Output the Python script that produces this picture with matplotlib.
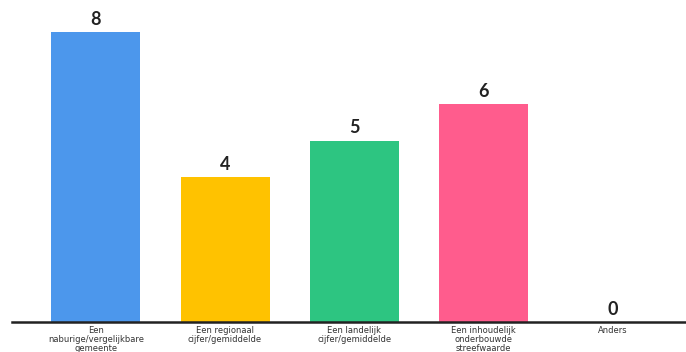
import matplotlib
matplotlib.use("Agg")
import matplotlib.pyplot as plt

categories = ["Een\nnaburige/vergelijkbare\ngemeente", "Een regionaal\ncijfer/gemiddelde",
              "Een landelijk\ncijfer/gemiddelde", "Een inhoudelijk\nonderbouwde\nstreefwaarde", "Anders"]
values = [8, 4, 5, 6, 0]
colors = ["#4C97EC", "#FFC200", "#2DC581", "#FF5C8D", "#9E9E9E"]

plt.rcParams['font.family'] = ['Lato', 'DejaVu Sans']
fig = plt.figure(figsize=(6.86, 3.52), dpi=100)
ax = fig.add_axes([12/686, 30/352, 674/686, 322/352])
x = list(range(len(categories)))
ax.bar(x, values, width=0.69, color=colors)
for xi, v in zip(x, values):
    ax.text(xi, v + 0.12, str(v), ha='center', va='bottom', fontsize=13,
            fontweight='bold', color='#222222')
ax.set_xlim(-0.65, 4.57)
ax.set_ylim(0, 8.88)
ax.set_yticks([])
ax.set_xticks(x)
ax.set_xticklabels(categories, fontsize=6, color='#333333', linespacing=1.0,
                   family=['DejaVu Sans'])
ax.tick_params(axis='x', length=0, pad=3)
for s in ['top', 'right', 'left']:
    ax.spines[s].set_visible(False)
ax.spines['bottom'].set_color('#222222')
ax.spines['bottom'].set_linewidth(1.8)
fig.savefig("out.png", dpi=100)
